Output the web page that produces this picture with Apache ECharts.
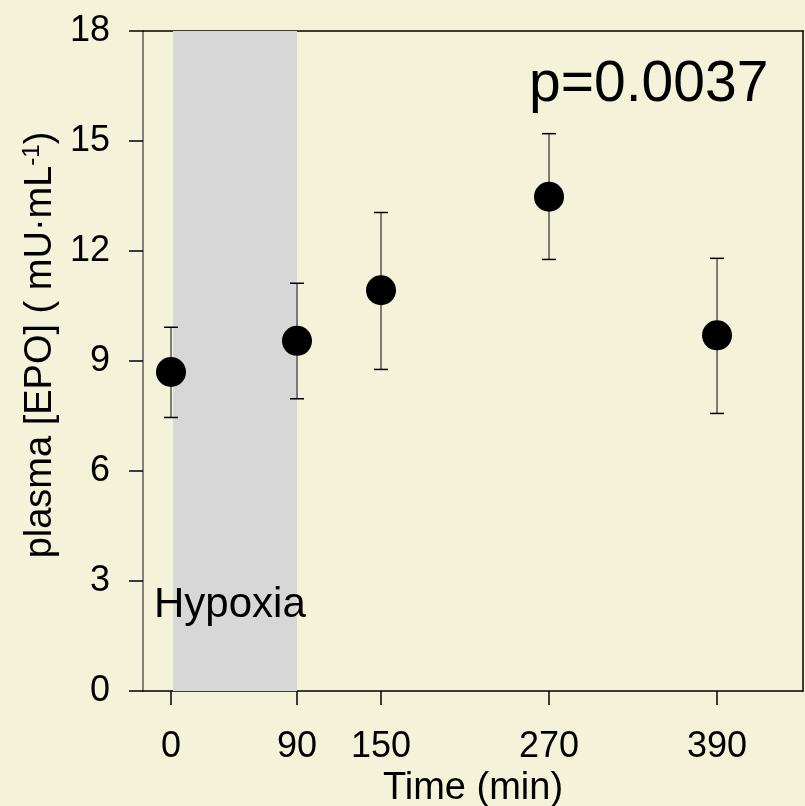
<!DOCTYPE html>
<html>
<head>
<meta charset="utf-8">
<script src="https://cdn.jsdelivr.net/npm/echarts@6/dist/echarts.min.js"></script>
<style>
  html, body { margin: 0; padding: 0; background: #f5f2da; }
  #chart { width: 805px; height: 806px; }
</style>
</head>
<body>
<div id="chart"></div>
<script>
// time points (min) and plasma EPO values
var times = [0, 90, 150, 270, 390];
var means = [8.7, 9.55, 10.93, 13.48, 9.7];
var lower = [7.46, 7.97, 8.77, 11.77, 7.57];
var upper = [9.92, 11.12, 13.05, 15.2, 11.8];
var xTicks = [0, 90, 150, 270, 390];
var hypoxia = [1.5, 90];

var chart = echarts.init(document.getElementById("chart"));

var font = "Liberation Sans, Arial, sans-serif";

chart.setOption({
  backgroundColor: "#f5f2da",
  animation: false,
  grid: { left: 143, right: 2, top: 31, bottom: 115, outerBoundsMode: "none" },
  xAxis: [
    {
      type: "value",
      min: -20,
      max: 451.4,
      splitLine: { show: false },
      axisLine: { show: true, onZero: false, lineStyle: { color: "#000", width: 1.5 } },
      axisTick: { show: true, customValues: xTicks, length: 14, lineStyle: { color: "#000", width: 1.5 } },
      axisLabel: { customValues: xTicks, color: "#000", fontSize: 36, fontFamily: font, margin: 38 },
      name: "Time (min)",
      nameLocation: "middle",
      nameGap: 74,
      nameTextStyle: { color: "#000", fontSize: 38, fontFamily: font }
    },
    {
      type: "value",
      position: "top",
      min: -20,
      max: 451.4,
      splitLine: { show: false },
      axisLine: { show: true, onZero: false, lineStyle: { color: "#000", width: 1.5 } },
      axisTick: { show: false },
      axisLabel: { show: false }
    }
  ],
  yAxis: [
    {
      type: "value",
      min: 0,
      max: 18,
      interval: 3,
      splitLine: { show: false },
      axisLine: { show: true, onZero: false, lineStyle: { color: "#808080", width: 2 } },
      axisTick: { show: true, length: 14, lineStyle: { color: "#000", width: 1.5 } },
      axisLabel: { color: "#000", fontSize: 36, fontFamily: font, margin: 33 },
      name: "{a|plasma [EPO] ( mU·mL}{s|-1}{a|)}",
      nameLocation: "middle",
      nameGap: 78,
      nameTextStyle: {
        padding: [0, 0, 0, 32],
        rich: {
          a: { color: "#000", fontSize: 38, fontFamily: font },
          s: { color: "#000", fontSize: 24, fontFamily: font, verticalAlign: "top", padding: [0, 0, 16, 0] }
        }
      }
    },
    {
      type: "value",
      position: "right",
      min: 0,
      max: 18,
      splitLine: { show: false },
      axisLine: { show: true, onZero: false, lineStyle: { color: "#000", width: 1.5 } },
      axisTick: { show: false },
      axisLabel: { show: false }
    }
  ],
  series: [
    {
      type: "custom",
      z: 1,
      silent: true,
      data: [hypoxia],
      renderItem: function (params, api) {
        var p0 = api.coord([api.value(0), 18]);
        var p1 = api.coord([api.value(1), 0]);
        return {
          type: "rect",
          shape: { x: p0[0], y: p0[1], width: p1[0] - p0[0], height: p1[1] - p0[1] },
          style: { fill: "#d7d7d7" }
        };
      }
    },
    {
      type: "custom",
      z: 3,
      data: times.map(function (t, i) { return [t, lower[i], upper[i]]; }),
      renderItem: function (params, api) {
        var lo = api.coord([api.value(0), api.value(1)]);
        var hi = api.coord([api.value(0), api.value(2)]);
        var hw = 7;
        return {
          type: "group",
          children: [
            { type: "line", shape: { x1: lo[0], y1: lo[1], x2: hi[0], y2: hi[1] }, style: { stroke: "#555", lineWidth: 1.5 } },
            { type: "line", shape: { x1: lo[0] - hw, y1: lo[1], x2: lo[0] + hw, y2: lo[1] }, style: { stroke: "#000", lineWidth: 1.5 } },
            { type: "line", shape: { x1: hi[0] - hw, y1: hi[1], x2: hi[0] + hw, y2: hi[1] }, style: { stroke: "#000", lineWidth: 1.5 } }
          ]
        };
      }
    },
    {
      type: "scatter",
      z: 4,
      symbol: "circle",
      symbolSize: 30,
      itemStyle: { color: "#000", opacity: 1 },
      data: times.map(function (t, i) { return [t, means[i]]; })
    }
  ],
  graphic: [
    {
      type: "text",
      left: 529,
      top: 57,
      style: { text: "p=0.0037", fill: "#000", fontSize: 57, fontFamily: font }
    },
    {
      type: "text",
      left: 154,
      top: 584,
      z: 10,
      style: { text: "Hypoxia", fill: "#000", fontSize: 42, fontFamily: font }
    }
  ]
});
</script>
</body>
</html>
